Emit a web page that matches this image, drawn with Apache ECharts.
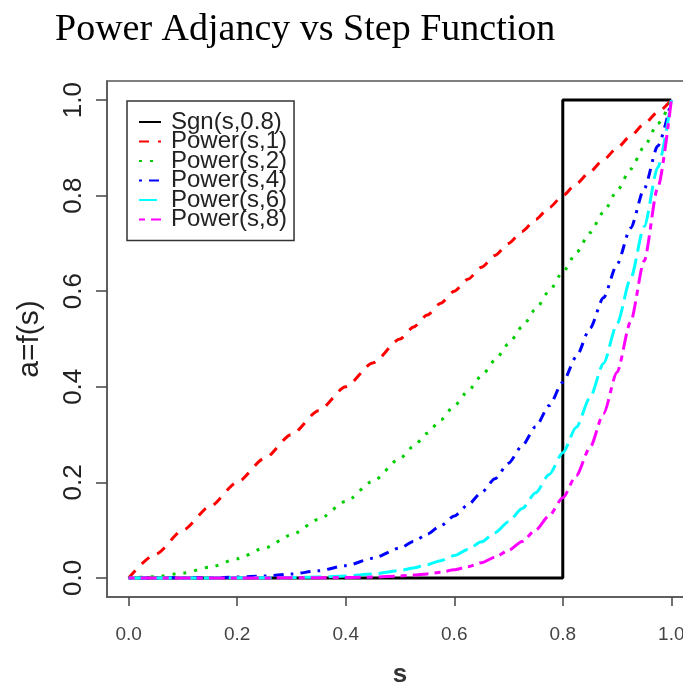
<!DOCTYPE html>
<html>
<head>
<meta charset="utf-8">
<script src="https://cdn.jsdelivr.net/npm/echarts@6/dist/echarts.min.js"></script>
<style>html,body{margin:0;padding:0;background:#fff;overflow:hidden}#c{width:700px;height:686px}</style>
</head>
<body>
<div id="c"></div>
<script>
// ---- data ----
const sValues = [0,0.05,0.1,0.15,0.2,0.25,0.3,0.35,0.4,0.45,0.5,0.525,0.55,0.575,0.6,0.625,0.65,0.675,0.7,0.725,0.75,0.775,0.8,0.825,0.85,0.875,0.9,0.925,0.95,0.975,1];
const stepS = [0, 0.8, 0.8, 1];
const stepA = [0, 0, 1, 1];
const power1 = [0,0.05,0.1,0.15,0.2,0.25,0.3,0.35,0.4,0.45,0.5,0.525,0.55,0.575,0.6,0.625,0.65,0.675,0.7,0.725,0.75,0.775,0.8,0.825,0.85,0.875,0.9,0.925,0.95,0.975,1];
const power2 = [0,0.0025,0.01,0.0225,0.04,0.0625,0.09,0.1225,0.16,0.2025,0.25,0.2756,0.3025,0.3306,0.36,0.3906,0.4225,0.4556,0.49,0.5256,0.5625,0.6006,0.64,0.6806,0.7225,0.7656,0.81,0.8556,0.9025,0.9506,1];
const power4 = [0,0.00001,0.0001,0.0005,0.0016,0.0039,0.0081,0.015,0.0256,0.041,0.0625,0.076,0.0915,0.1093,0.1296,0.1526,0.1785,0.2076,0.2401,0.2763,0.3164,0.3607,0.4096,0.4632,0.522,0.5862,0.6561,0.7321,0.8145,0.9037,1];
const power6 = [0,0,0,0.00001,0.00006,0.0002,0.0007,0.0018,0.0041,0.0083,0.0156,0.0209,0.0277,0.0361,0.0467,0.0596,0.0754,0.0946,0.1176,0.1452,0.178,0.2166,0.2621,0.3153,0.3771,0.4488,0.5314,0.6264,0.7351,0.8591,1];
const power8 = [0,0,0,0,0,0,0.0001,0.0002,0.0007,0.0017,0.0039,0.0058,0.0084,0.012,0.0168,0.0233,0.0319,0.0431,0.0576,0.0763,0.1001,0.1301,0.1678,0.2146,0.2725,0.3436,0.4305,0.536,0.6634,0.8167,1];
const xTicks = [0,0.2,0.4,0.6,0.8,1.0];
const yTicks = [0,0.2,0.4,0.6,0.8,1.0];
const seriesNames = ['Sgn(s,0.8)','Power(s,1)','Power(s,2)','Power(s,4)','Power(s,6)','Power(s,8)'];

// ---- build ----
const pair = (xs, ys) => xs.map((x, i) => [x, ys[i]]);
const styles = [
  {color:'#000000', type:'solid'},
  {color:'#FF0000', type:[10,9]},
  {color:'#00CD00', type:[3,8]},
  {color:'#0000FF', type:[3,7,10,7]},
  {color:'#00FFFF', type:[18,7]},
  {color:'#FF00FF', type:[6,6,16,6]}
];
const datas = [pair(stepS, stepA), pair(sValues, power1), pair(sValues, power2), pair(sValues, power4), pair(sValues, power6), pair(sValues, power8)];

const series = seriesNames.map((n, i) => ({
  name: n,
  type: 'line',
  data: datas[i],
  symbol: 'none',
  smooth: i === 0 ? false : 0.25,
  smoothMonotone: 'x',
  color: styles[i].color,
  lineStyle: {color: styles[i].color, width: 3, type: styles[i].type},
  animation: false,
  z: 2 + i
}));

const chart = echarts.init(document.getElementById('c'), null, {renderer: 'canvas'});
const fmt = v => v.toFixed(1);
chart.setOption({
  animation: false,
  backgroundColor: '#ffffff',
  title: {
    text: 'Power Adjancy vs Step Function',
    left: 50, top: 6,
    textStyle: {fontFamily: 'Liberation Serif', fontSize: 38, fontWeight: 'normal', color: '#000'}
  },
  grid: {
    left: 107, top: 81, right: 7, bottom: 89,
    outerBoundsMode: 'none',
    show: true, borderColor: '#555', borderWidth: 1.5, containLabel: false
  },
  legend: {
    orient: 'vertical',
    left: 127, top: 101,
    data: seriesNames,
    itemWidth: 22, itemHeight: 12, itemGap: -4.5,
    padding: [9, 7, 9, 11],
    borderColor: '#333', borderWidth: 1.5,
    itemStyle: {opacity: 0},
    textStyle: {fontFamily: 'Liberation Sans', fontSize: 24, lineHeight: 24, color: '#222', padding: [0,0,0,5]},
    selectedMode: false
  },
  xAxis: {
    type: 'value', min: -0.04, max: 1.04,
    name: 's', nameLocation: 'middle', nameGap: 65,
    nameTextStyle: {fontFamily: 'Liberation Sans', fontSize: 26, fontWeight: 'bold', color: '#333'},
    axisLine: {show: true, onZero: false, lineStyle: {color: '#555', width: 1.5}},
    splitLine: {show: false},
    axisTick: {show: true, length: 9, customValues: xTicks, lineStyle: {color: '#444', width: 1.5}},
    axisLabel: {customValues: xTicks, formatter: fmt, margin: 28, fontFamily: 'Liberation Sans', fontSize: 19, color: '#444'}
  },
  yAxis: {
    type: 'value', min: -0.04, max: 1.04,
    name: 'a=f(s)', nameLocation: 'middle', nameGap: 62,
    nameTextStyle: {fontFamily: 'Liberation Sans', fontSize: 30, color: '#222'},
    axisLine: {show: true, onZero: false, lineStyle: {color: '#555', width: 1.5}},
    splitLine: {show: false},
    axisTick: {show: true, inside: false, length: 11, customValues: yTicks, lineStyle: {color: '#444', width: 1.5}},
    axisLabel: {customValues: yTicks, formatter: fmt, rotate: 90, margin: 20, fontFamily: 'Liberation Sans', fontSize: 26, color: '#222'}
  },
  series: series
});
</script>
</body>
</html>
